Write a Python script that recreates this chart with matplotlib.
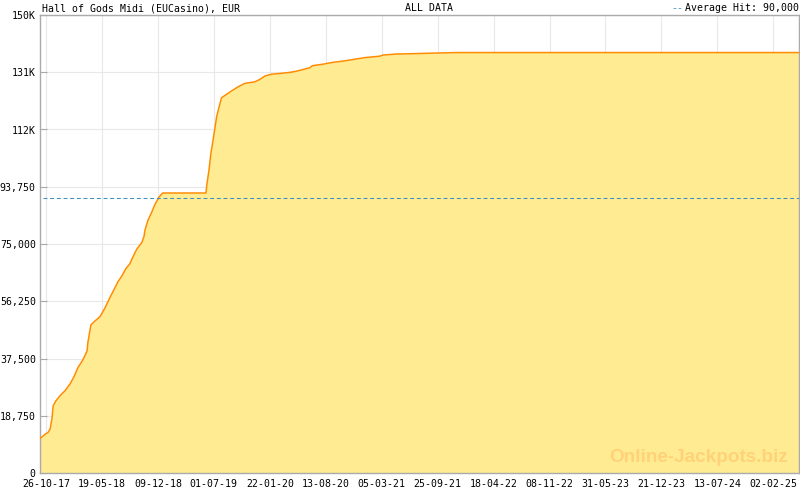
import matplotlib
matplotlib.use("Agg")
from matplotlib import pyplot as plt
import matplotlib.dates as mdates
import numpy as np
import pandas as pd

# jackpot history
dates = [
    "2017-10-04", "2017-10-26", "2017-11-02", "2017-11-10", "2017-11-17",
    "2017-11-21", "2017-12-01", "2017-12-16", "2018-01-03", "2018-01-22",
    "2018-02-05", "2018-02-20", "2018-03-10", "2018-03-25", "2018-03-28",
    "2018-04-05", "2018-04-08", "2018-04-23", "2018-05-11", "2018-05-29",
    "2018-06-16", "2018-07-01", "2018-07-16", "2018-07-30", "2018-08-14",
    "2018-08-28", "2018-09-08", "2018-09-23", "2018-10-11", "2018-10-19",
    "2018-10-22", "2018-11-02", "2018-11-16", "2018-11-28", "2018-12-13",
    "2018-12-26", "2019-06-02", "2019-06-06", "2019-06-13", "2019-06-20",
    "2019-06-28", "2019-07-11", "2019-07-20", "2019-07-29", "2019-08-16",
    "2019-09-03", "2019-09-28", "2019-10-22", "2019-11-27", "2019-12-16",
    "2020-01-03", "2020-01-27", "2020-03-04", "2020-04-03", "2020-04-28",
    "2020-05-28", "2020-06-15", "2020-06-25", "2020-08-03", "2020-09-08",
    "2020-10-15", "2020-12-02", "2021-01-08", "2021-02-25", "2021-03-12",
    "2021-04-25", "2021-07-24", "2021-12-02", "2025-05-07",
]
values = [
    11300, 12900, 13200, 14400, 18000,
    22000, 23600, 25300, 26900, 29200,
    31500, 34600, 37100, 40000, 42800,
    47000, 48500, 49800, 51200, 54000,
    57400, 60000, 62700, 64500, 67000,
    68500, 70700, 73400, 75500, 77500,
    79400, 82700, 85400, 88000, 90400,
    91700, 91700, 94800, 99100, 104600,
    109000, 116600, 119900, 122900, 124000,
    125100, 126500, 127600, 128100, 128900,
    130000, 130600, 130900, 131200, 131600,
    132300, 132700, 133400, 133900, 134500,
    134900, 135600, 136100, 136500, 136900,
    137200, 137400, 137700, 137700,
]
average_hit = 90000

x_labels = ["26-10-17", "19-05-18", "09-12-18", "01-07-19", "22-01-20",
            "13-08-20", "05-03-21", "25-09-21", "18-04-22", "08-11-22",
            "31-05-23", "21-12-23", "13-07-24", "02-02-25"]
y_ticks = [0, 18750, 37500, 56250, 75000, 93750, 112500, 131250, 150000]
y_labels = ["0", "18,750", "37,500", "56,250", "75,000", "93,750",
            "112K", "131K", "150K"]

x = pd.to_datetime(dates)
x_major = pd.to_datetime(x_labels, format="%d-%m-%y")

mono = "DejaVu Sans Mono"
gray = "#aaaaaa"

fig = plt.figure(figsize=(8, 4.9), dpi=100)
ax = fig.add_axes([40 / 800, 17 / 490, 759 / 800, 458 / 490])

ax.fill_between(x, values, 0, color="#ffeb91", zorder=2, linewidth=0)
ax.plot(x, values, color="#ff8c00", linewidth=1.1, zorder=3)
ax.axhline(average_hit, color="#3f8fc0", linewidth=0.75,
           linestyle=(0, (3.8, 2.6)), zorder=4, xmin=0.004)

ax.set_xlim(x[0], x[-1])
ax.set_ylim(0, 150000)

ax.set_yticks(y_ticks)
ax.set_yticklabels(y_labels, fontfamily=mono, fontsize=7.1)
ax.set_xticks(mdates.date2num(x_major))
ax.set_xticklabels(x_labels, fontfamily=mono, fontsize=7.1)

# minor ticks: 7 steps between each labelled tick
step = np.diff(mdates.date2num(x_major)).mean() / 7
lo, hi = mdates.date2num(x[0]), mdates.date2num(x[-1])
start = mdates.date2num(x_major[0])
minor = start + step * np.arange(-3, 200)
minor = minor[(minor >= lo) & (minor <= hi)]
ax.set_xticks(minor, minor=True)

ax.tick_params(axis="x", which="major", direction="in", length=5,
               color=gray, pad=4.5)
ax.tick_params(axis="x", which="minor", direction="in", length=3, color=gray)
ax.tick_params(axis="y", direction="in", length=5, color=gray, pad=3)

ax.grid(True, which="major", color="#e8e8e8", linewidth=0.8, zorder=0)
ax.set_axisbelow(True)
for s in ax.spines.values():
    s.set_color(gray)
    s.set_linewidth(1)

ax.text(0.985, 0.025, "Online-Jackpots.biz", transform=ax.transAxes,
        ha="right", va="baseline", fontfamily="Liberation Sans",
        fontweight="bold", fontsize=13.6, color="#ffd27a", zorder=5)

fig.text(42 / 800, 1 - 8.5 / 490, "Hall of Gods Midi (EUCasino), EUR",
         fontfamily=mono, fontsize=7.1, va="center", ha="left")
fig.text(429 / 800, 1 - 8 / 490, "ALL DATA",
         fontfamily=mono, fontsize=7.1, va="center", ha="center")
fig.text(799 / 800, 1 - 8 / 490, "Average Hit: 90,000",
         fontfamily=mono, fontsize=7.1, va="center", ha="right")
fig.text(683 / 800, 1 - 8 / 490, "--", color="#3f8fc0",
         fontfamily=mono, fontsize=7.1, va="center", ha="right")

fig.savefig("out.png", dpi=100)
